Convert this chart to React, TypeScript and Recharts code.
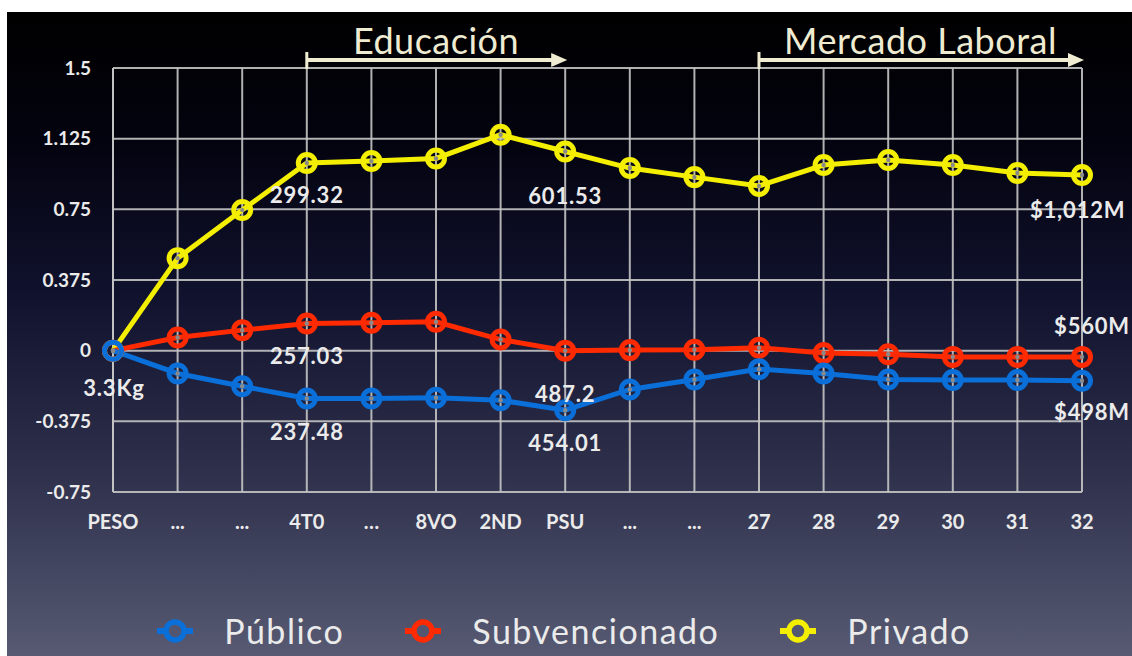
import React from "react";
import {
  LineChart,
  Line,
  XAxis,
  YAxis,
  CartesianGrid,
  Legend,
  LabelList,
  ReferenceLine,
} from "recharts";

const categories = ["PESO", "...", "...", "4T0", "…", "8VO", "2ND", "PSU", "...", "...", "27", "28", "29", "30", "31", "32"];
const yTicks = [-0.75, -0.375, 0, 0.375, 0.75, 1.125, 1.5];

const publico = [0, -0.121, -0.189, -0.254, -0.254, -0.25, -0.263, -0.316, -0.206, -0.153, -0.098, -0.121, -0.153, -0.156, -0.156, -0.16];
const subvencionado = [0, 0.07, 0.109, 0.144, 0.148, 0.153, 0.059, 0, 0.003, 0.005, 0.015, -0.012, -0.019, -0.033, -0.033, -0.033];
const privado = [0, 0.491, 0.746, 0.996, 1.006, 1.02, 1.146, 1.057, 0.969, 0.921, 0.874, 0.985, 1.012, 0.985, 0.943, 0.932];

const publicoLabels = ["3.3Kg", "", "", "237.48", "", "", "", "454.01", "", "", "", "", "", "", "", "$498M"];
const subvencionadoLabels = ["", "", "", "257.03", "", "", "", "487.2", "", "", "", "", "", "", "", "$560M"];
const privadoLabels = ["", "", "", "299.32", "", "", "", "601.53", "", "", "", "", "", "", "", "$1,012M"];

const sections = [
  { name: "Educación", from: 3, to: 7 },
  { name: "Mercado Laboral", from: 10, to: 15 },
];

const seriesInfo = [
  { key: "pub", name: "Público", color: "#0a6fd8" },
  { key: "sub", name: "Subvencionado", color: "#ff2a00" },
  { key: "pri", name: "Privado", color: "#f4ef00" },
];

const data = categories.map((c, i) => ({
  idx: i,
  pub: publico[i],
  sub: subvencionado[i],
  pri: privado[i],
  pubLbl: publicoLabels[i],
  subLbl: subvencionadoLabels[i],
  priLbl: privadoLabels[i],
}));

// label offsets (style only)
const labelOffsets: Record<string, Record<number, [number, number, string?]>> = {
  pri: { 3: [0, 32], 7: [0, 44], 15: [-52, 34, "start"] },
  sub: { 3: [0, 32], 7: [0, 43], 15: [10, -31] },
  pub: { 0: [1, 37], 3: [0, 33], 7: [0, 32], 15: [10, 31] },
};

const FONT = "Lato, 'Open Sans', sans-serif";
const TEXT = "#ebebeb";

const makeDot = (color: string) => (props: any) => {
  const { cx, cy, index } = props;
  if (cx == null || cy == null) return <g key={index} />;
  return (
    <g key={index}>
      <circle cx={cx} cy={cy} r={8.5} fill="none" stroke={color} strokeWidth={5} />
      <circle cx={cx} cy={cy} r={2.2} fill="#8a8a8a" />
    </g>
  );
};

const makeLabel = (key: string) => (props: any) => {
  const { x, y, value, index } = props;
  if (!value) return null;
  const off = labelOffsets[key][index] || [0, 32];
  return (
    <text
      x={x + off[0]}
      y={y + off[1]}
      textAnchor={(off[2] as any) || "middle"}
      dominantBaseline="central"
      fill={TEXT}
      fontFamily={FONT}
      fontWeight={700}
      fontSize={22}
      letterSpacing={0.8}
    >
      {value}
    </text>
  );
};

const SectionShape = (name: string) => (props: any) => {
  const { x1, y1, x2 } = props;
  const y = y1 - 8;
  const c = "#efecd2";
  return (
    <g>
      <line x1={x1} y1={y} x2={x2 - 6} y2={y} stroke={c} strokeWidth={4} />
      <line x1={x1} y1={y - 8} x2={x1} y2={y + 9} stroke={c} strokeWidth={3} />
      <path d={`M ${x2 - 14} ${y - 7} L ${x2 + 2} ${y} L ${x2 - 14} ${y + 7} Z`} fill={c} />
      <text
        x={(x1 + x2) / 2}
        y={y - 6}
        textAnchor="middle"
        fill={c}
        fontFamily={FONT}
        fontSize={36}
        letterSpacing={0.5}
      >
        {name}
      </text>
    </g>
  );
};

const LegendContent = () => (
  <div
    style={{
      display: "flex",
      justifyContent: "center",
      alignItems: "center",
      fontFamily: FONT,
      fontSize: 34,
      letterSpacing: 1.5,
      color: TEXT,
      paddingRight: 8,
    }}
  >
    {seriesInfo.map((s, i) => (
      <div key={s.key} style={{ display: "flex", alignItems: "center", marginLeft: i === 0 ? 0 : 57 }}>
        <svg width={44} height={26} style={{ marginRight: 27 }}>
          <line x1={4} y1={13} x2={40} y2={13} stroke={s.color} strokeWidth={6} />
          <circle cx={22} cy={13} r={9} fill="#535670" stroke={s.color} strokeWidth={5.5} />
        </svg>
        <span>{s.name}</span>
      </div>
    ))}
  </div>
);

export default function App() {
  return (
    <div style={{ position: "absolute", left: 0, top: 0, width: 1132, height: 656, background: "#ffffff", overflow: "hidden" }}>
      <div
        style={{
          position: "absolute",
          left: 7,
          top: 12,
          width: 1125,
          height: 644,
          background: "linear-gradient(to bottom, #000000 0%, #03030f 20%, #11132f 45%, #2c2e4a 70%, #575a72 100%)",
        }}
      />
      <div style={{ position: "absolute", left: 0, top: 0 }}>
        <LineChart
          width={1132}
          height={656}
          data={data}
          margin={{ top: 68, right: 50, bottom: 134, left: 13 }}
        >
          <CartesianGrid stroke="#c4c4c4" strokeWidth={2} strokeOpacity={0.9} />
          <XAxis
            dataKey="idx"
            type="category"
            height={30}
            tickFormatter={(v: any, i: number) => categories[i] ?? ""}
            interval={0}
            axisLine={false}
            tickLine={false}
            tickSize={0}
            tickMargin={23}
            tick={{ fill: TEXT, fontFamily: FONT, fontWeight: 700, fontSize: 20 }}
          />
          <YAxis
            type="number"
            domain={[-0.75, 1.5]}
            ticks={yTicks}
            width={100}
            interval={0}
            axisLine={false}
            tickLine={false}
            tickSize={0}
            tickMargin={22}
            tick={{ fill: TEXT, fontFamily: FONT, fontWeight: 700, fontSize: 19 }}
          />
          {sections.map((s) => (
            <ReferenceLine
              key={s.name}
              segment={[
                { x: s.from, y: 1.5 },
                { x: s.to, y: 1.5 },
              ]}
              ifOverflow="visible"
              shape={SectionShape(s.name)}
            />
          ))}
          <Line
            dataKey="pri"
            name="Privado"
            stroke="#f4ef00"
            strokeWidth={5}
            dot={makeDot("#f4ef00")}
            isAnimationActive={false}
          >
            <LabelList dataKey="priLbl" content={makeLabel("pri")} />
          </Line>
          <Line
            dataKey="sub"
            name="Subvencionado"
            stroke="#ff2a00"
            strokeWidth={5}
            dot={makeDot("#ff2a00")}
            isAnimationActive={false}
          >
            <LabelList dataKey="subLbl" content={makeLabel("sub")} />
          </Line>
          <Line
            dataKey="pub"
            name="Público"
            stroke="#0a6fd8"
            strokeWidth={5}
            dot={makeDot("#0a6fd8")}
            isAnimationActive={false}
          >
            <LabelList dataKey="pubLbl" content={makeLabel("pub")} />
          </Line>
          <Legend
            content={<LegendContent />}
            wrapperStyle={{ position: "absolute", left: 0, top: 610, width: 1132, height: 0 }}
          />
        </LineChart>
      </div>
    </div>
  );
}
